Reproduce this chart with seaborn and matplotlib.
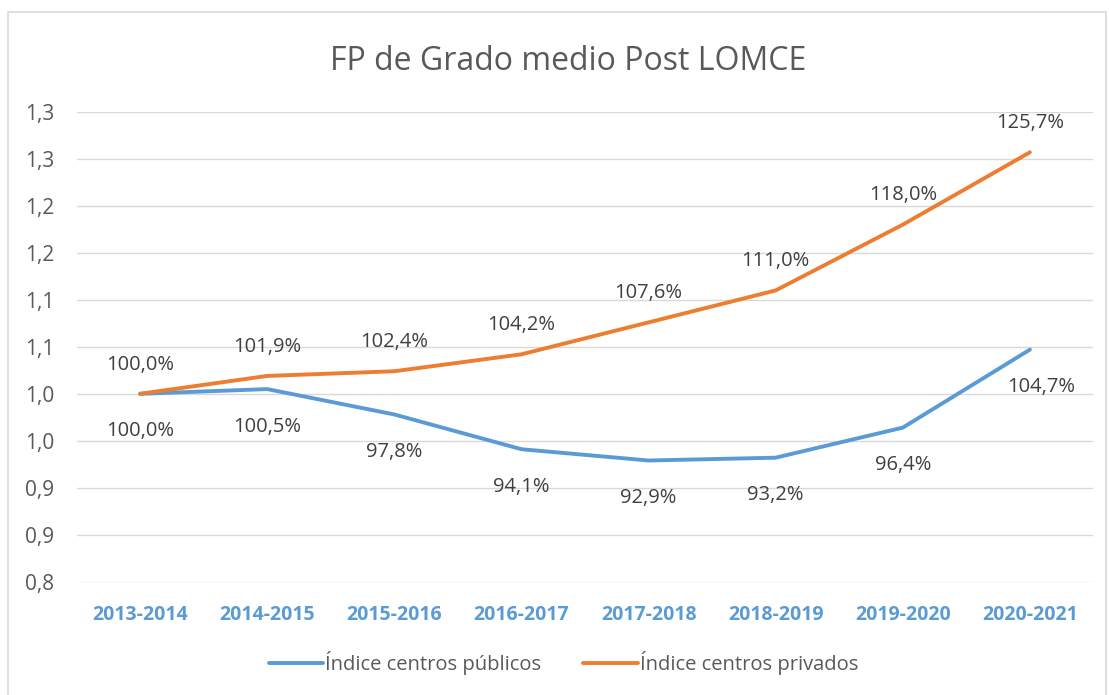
import pandas as pd
import matplotlib.pyplot as plt
import seaborn as sns
from matplotlib.patches import Rectangle

cursos = ["2013-2014", "2014-2015", "2015-2016", "2016-2017",
          "2017-2018", "2018-2019", "2019-2020", "2020-2021"]
publicos = [100.0, 100.5, 97.8, 94.1, 92.9, 93.2, 96.4, 104.7]
privados = [100.0, 101.9, 102.4, 104.2, 107.6, 111.0, 118.0, 125.7]
y_ticks = [0.80, 0.85, 0.90, 0.95, 1.00, 1.05, 1.10, 1.15, 1.20, 1.25, 1.30]

serie_pub = "Índice centros públicos"
serie_priv = "Índice centros privados"

df = pd.DataFrame({
    "curso": cursos * 2,
    "indice": [v / 100 for v in publicos] + [v / 100 for v in privados],
    "serie": [serie_pub] * len(cursos) + [serie_priv] * len(cursos),
})

sns.set_style("white")
plt.rcParams["font.family"] = ["Open Sans", "DejaVu Sans"]

fig = plt.figure(figsize=(11.09, 6.95), dpi=100)
ax = fig.add_axes([0.069, 0.163, 0.917, 0.676])

colores = {serie_pub: "#5B9BD5", serie_priv: "#ED7D31"}
sns.lineplot(data=df, x="curso", y="indice", hue="serie", palette=colores,
             linewidth=2.8, sort=False, ax=ax, legend=True)

ax.set_xlim(-0.5, len(cursos) - 0.5)
ax.set_ylim(0.8, 1.3)
ax.set_yticks(y_ticks)
# etiquetas con un decimal y coma, como Excel
ax.set_yticklabels([("%.1f" % (t + 1e-9)).replace(".", ",") for t in y_ticks],
                   fontsize=15, color="#595959")
ax.set_xticks(range(len(cursos)))
ax.set_xticklabels(cursos, fontsize=14, color="#5B9BD5", fontweight="bold")
ax.tick_params(axis="both", length=0)
ax.tick_params(axis="y", pad=16)
ax.tick_params(axis="x", pad=17)
ax.grid(axis="y", color="#D9D9D9", linewidth=1)
ax.set_axisbelow(True)
for s in ax.spines.values():
    s.set_visible(False)
ax.set_xlabel("")
ax.set_ylabel("")

# etiquetas de datos
for i, (pu, pr) in enumerate(zip(publicos, privados)):
    ax.annotate(f"{pr:.1f}%".replace(".", ","), (i, pr / 100),
                xytext=(0, 21), textcoords="offset points",
                ha="center", va="center", fontsize=14.5, color="#404040")
    dx = 8 if i == len(cursos) - 1 else 0
    ax.annotate(f"{pu:.1f}%".replace(".", ","), (i, pu / 100),
                xytext=(dx, -27), textcoords="offset points",
                ha="center", va="center", fontsize=14.5, color="#404040")

fig.text(0.512, 0.912, "FP de Grado medio Post LOMCE", ha="center", va="center",
         fontsize=23, color="#595959")

handles, labels = ax.get_legend_handles_labels()
ax.legend(handles, labels, loc="center", bbox_to_anchor=(0.508, 0.046),
          bbox_transform=fig.transFigure, ncol=2, frameon=False, fontsize=14.5,
          handlelength=2.7, handletextpad=0.1, columnspacing=2.1, labelcolor="#595959")

fig.patches.append(Rectangle((0.007, -0.01), 0.99, 0.993, transform=fig.transFigure,
                             fill=False, edgecolor="#D9D9D9", linewidth=1.2))

plt.savefig("out.png", dpi=100)
